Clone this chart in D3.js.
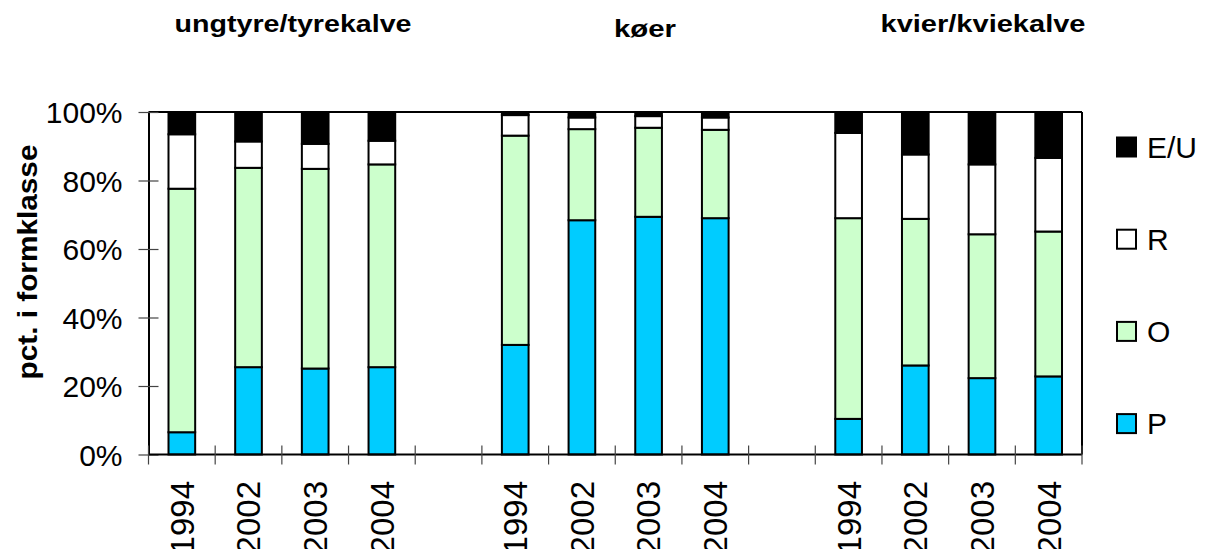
<!DOCTYPE html>
<html>
<head>
<meta charset="utf-8">
<script src="https://cdn.jsdelivr.net/npm/d3@7"></script>
<style>
  html, body { margin: 0; padding: 0; background: #fff; }
  svg { display: block; font-family: "Liberation Sans", Arial, sans-serif; }
</style>
</head>
<body>
<svg id="chart" width="1207" height="549"></svg>
<script>
// ---- data ----
const groups = ["ungtyre/tyrekalve", "køer", "kvier/kviekalve"];
const years = ["1994", "2002", "2003", "2004"];
const seriesNames = ["P", "O", "R", "E/U"];
const seriesColors = ["#00CCFF", "#CCFFCC", "#FFFFFF", "#000000"];
const P  = [6.5, 25.5, 25.1, 25.5,  32.0, 68.4, 69.4, 69.0,  10.4, 26.0, 22.3, 22.8];
const O  = [71.1, 58.2, 58.3, 59.2, 61.1, 26.6, 26.0, 25.8,  58.6, 42.8, 42.0, 42.3];
const R  = [15.9, 7.7, 7.3, 6.9,    6.0, 3.4, 3.4, 3.6,      24.9, 18.8, 20.4, 21.5];
const EU = [6.5, 8.6, 9.3, 8.4,     0.9, 1.6, 1.2, 1.6,      6.1, 12.4, 15.3, 13.4];
const yTicks = [0, 20, 40, 60, 80, 100];
const yTitle = "pct. i formklasse";

// ---- build table ----
const rows = [];
const slots = [];
groups.forEach((g, gi) => {
  years.forEach((yr, yi) => {
    const i = gi * years.length + yi;
    const key = g + "|" + yr;
    slots.push(key);
    rows.push({ key, group: g, year: yr, "P": P[i], "O": O[i], "R": R[i], "E/U": EU[i] });
  });
  if (gi < groups.length - 1) slots.push("gap" + gi);
});

const svg = d3.select("#chart");
const pLeft = 148.5, pRight = 1082, pTop = 112, pBottom = 454.5;

const x = d3.scaleBand().domain(slots).range([pLeft, pRight])
  .paddingInner(0.6).paddingOuter(0.3);
const y = d3.scaleLinear().domain([0, 100]).range([pBottom, pTop]);
const color = d3.scaleOrdinal().domain(seriesNames).range(seriesColors);

const stacked = d3.stack().keys(seriesNames)(rows);

// bars
svg.append("g").selectAll("g").data(stacked).join("g")
  .attr("fill", d => color(d.key))
  .selectAll("rect").data(d => d).join("rect")
  .attr("x", d => x(d.data.key))
  .attr("width", x.bandwidth())
  .attr("y", d => y(d[1]))
  .attr("height", d => y(d[0]) - y(d[1]))
  .attr("stroke", "#000")
  .attr("stroke-width", 2);

// frame (top and right)
svg.append("line").attr("x1", pLeft).attr("x2", pRight).attr("y1", pTop).attr("y2", pTop)
  .attr("stroke", "#000").attr("stroke-width", 2);
svg.append("line").attr("x1", pRight).attr("x2", pRight).attr("y1", pTop).attr("y2", pBottom)
  .attr("stroke", "#000").attr("stroke-width", 2);

// y axis
const yAxis = d3.axisLeft(y).tickValues(yTicks).tickFormat(d => d + "%").tickSize(0).tickPadding(0);
const ya = svg.append("g").attr("transform", `translate(${pLeft},0)`).call(yAxis);
ya.select(".domain").attr("stroke", "#000").attr("stroke-width", 2);
ya.selectAll(".tick text").attr("x", -26).attr("font-size", 30).attr("fill", "#000")
  .attr("font-family", "Liberation Sans, Arial, sans-serif").attr("dy", "0.35em");
ya.selectAll(".tick").append("line").attr("x1", -10).attr("x2", 10)
  .attr("stroke", "#444").attr("stroke-width", 1.2);

// x axis line
svg.append("line").attr("x1", pLeft).attr("x2", pRight).attr("y1", pBottom).attr("y2", pBottom)
  .attr("stroke", "#000").attr("stroke-width", 2);
// x ticks at slot boundaries
const step = x.step();
const boundaries = d3.range(slots.length + 1).map(i => pLeft + i * step);
svg.append("g").selectAll("line").data(boundaries).join("line")
  .attr("x1", d => d).attr("x2", d => d)
  .attr("y1", pBottom - 9).attr("y2", pBottom + 10)
  .attr("stroke", "#444").attr("stroke-width", 1.2);

// year labels
svg.append("g").selectAll("text").data(rows).join("text")
  .attr("transform", d => `translate(${x(d.key) + x.bandwidth() / 2},481) rotate(-90)`)
  .attr("text-anchor", "end")
  .attr("dy", "0.36em")
  .attr("font-size", 33)
  .attr("fill", "#000")
  .text(d => d.year);

// group titles
const titlePos = [[293, 32], [645, 37], [983, 32]];
const titleW = [237, 62, 205];
svg.append("g").selectAll("text").data(groups).join("text")
  .attr("x", (d, i) => titlePos[i][0])
  .attr("y", (d, i) => titlePos[i][1])
  .attr("text-anchor", "middle")
  .attr("font-size", 23)
  .attr("font-weight", "bold")
  .attr("textLength", (d, i) => titleW[i])
  .attr("lengthAdjust", "spacingAndGlyphs")
  .text(d => d);

// y title
svg.append("text")
  .attr("transform", "translate(37,262) rotate(-90)")
  .attr("text-anchor", "middle")
  .attr("font-size", 28)
  .attr("font-weight", "bold")
  .attr("textLength", 235)
  .attr("lengthAdjust", "spacingAndGlyphs")
  .text(yTitle);

// legend
const legendOrder = ["E/U", "R", "O", "P"];
const lg = svg.append("g").selectAll("g").data(legendOrder).join("g")
  .attr("transform", (d, i) => `translate(1117,${147 + i * 92.2})`);
lg.append("rect").attr("x", 0).attr("y", -9.5).attr("width", 19).attr("height", 19)
  .attr("fill", d => color(d)).attr("stroke", "#000").attr("stroke-width", 2);
lg.append("text").attr("x", 30).attr("y", 0).attr("dy", "0.36em")
  .attr("font-size", 30).attr("fill", "#000").text(d => d);
</script>
</body>
</html>
